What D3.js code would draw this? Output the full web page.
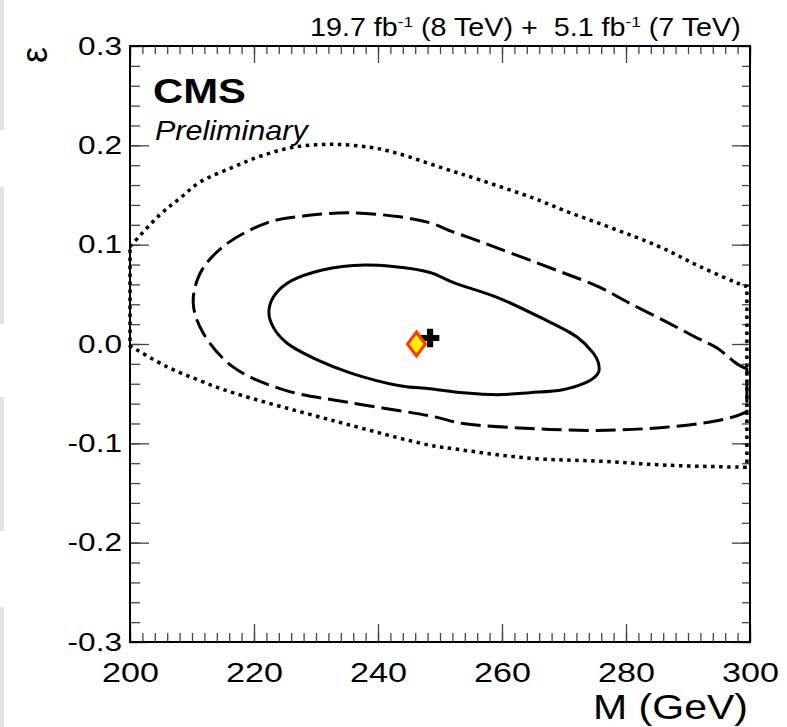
<!DOCTYPE html>
<html>
<head>
<meta charset="utf-8">
<script src="https://cdn.jsdelivr.net/npm/d3@7"></script>
<style>
  body { margin: 0; background: #fff; }
  svg { display: block; font-family: "Liberation Sans", Arial, sans-serif; }
</style>
</head>
<body>
<svg id="chart" width="787" height="727"></svg>
<script>
// axis ticks
const xTicks = [200, 220, 240, 260, 280, 300];
const xTickLabels = ["200", "220", "240", "260", "280", "300"];
const yTicks = [-0.3, -0.2, -0.1, 0, 0.1, 0.2, 0.3];
const yTickLabels = ["-0.3", "-0.2", "-0.1", "0.0", "0.1", "0.2", "0.3"];

// 68% contour (solid), closed, [M, epsilon]
const contour68 = [
  [222.4, 0.032], [223.1, 0.047], [225.3, 0.061], [229.5, 0.072], [236.0, 0.079],
  [242.4, 0.078], [248.4, 0.072], [252.1, 0.062], [259.2, 0.047], [266.1, 0.027],
  [272.1, 0.007], [274.7, -0.009], [275.5, -0.018], [275.6, -0.028], [275.0, -0.033],
  [273.1, -0.040], [269.8, -0.046], [264.5, -0.049], [259.2, -0.051], [253.7, -0.049],
  [248.4, -0.045], [243.5, -0.042], [235.5, -0.029], [230.2, -0.016], [225.3, 0.001],
  [223.1, 0.017]
];

// 95% contour (dashed), open at the M = 300 edge
const contour95 = [
  [299.5, -0.025], [297.9, -0.020], [294.7, -0.004], [291.5, 0.006], [286.6, 0.022],
  [280.6, 0.041], [275.8, 0.057], [268.9, 0.074], [256.5, 0.103], [251.6, 0.114],
  [248.4, 0.122], [243.5, 0.128], [235.5, 0.132], [228.2, 0.129], [222.1, 0.122],
  [215.0, 0.098], [211.3, 0.071], [210.2, 0.041], [211.8, 0.011], [216.6, -0.023],
  [224.7, -0.046], [235.5, -0.059], [248.9, -0.073], [253.7, -0.080], [264.5, -0.085],
  [275.3, -0.087], [286.0, -0.084], [294.0, -0.078], [297.5, -0.073], [299.5, -0.068]
];

// 99% contour (dotted), upper and lower branches, closed along M = 200 and M = 300
const contour99Top = [
  [200.0, 0.098], [204.8, 0.130], [208.1, 0.147], [211.3, 0.163], [216.6, 0.178],
  [221.0, 0.189], [226.3, 0.198], [232.7, 0.201], [238.7, 0.198], [243.1, 0.192],
  [250.5, 0.177], [256.5, 0.165], [265.0, 0.147], [269.8, 0.135], [285.0, 0.099],
  [291.9, 0.078], [298.9, 0.059], [299.5, 0.058]
];
const contour99Bottom = [
  [299.5, -0.124], [298.9, -0.124], [286.6, -0.122], [275.8, -0.118], [264.5, -0.115],
  [251.6, -0.105], [248.4, -0.102], [232.7, -0.077], [216.6, -0.049], [211.3, -0.037],
  [206.0, -0.023], [200.3, -0.003], [200.0, -0.002]
];

const smPoint = [246.2, 0.0];
const bestFit = [248.4, 0.006];

const svg = d3.select("#chart");

// grey tabs at the left border of the screenshot
const greyTabs = [[0, 130], [187, 324], [397, 531], [607, 727]];
svg.selectAll("rect.tab").data(greyTabs).enter().append("rect")
  .attr("class", "tab")
  .attr("x", 0).attr("width", 4)
  .attr("y", d => d[0]).attr("height", d => d[1] - d[0])
  .attr("fill", "#e2e2e2");

const x = d3.scaleLinear().domain([200, 300]).range([130, 750]);
const y = d3.scaleLinear().domain([-0.3, 0.3]).range([642, 46]);

const tickColor = "#444";

function styleAxis(g) {
  g.select(".domain").remove();
  g.selectAll("line").attr("stroke", tickColor).attr("stroke-width", 1.3);
}

// minor ticks
const xMinor = x.ticks(50);
const yMinor = y.ticks(30);

svg.append("g").attr("transform", "translate(0,642)")
  .call(d3.axisBottom(x).tickValues(xMinor).tickSize(-9).tickFormat("")).call(styleAxis);
svg.append("g").attr("transform", "translate(0,46)")
  .call(d3.axisTop(x).tickValues(xMinor).tickSize(-8).tickFormat("")).call(styleAxis);
svg.append("g").attr("transform", "translate(130,0)")
  .call(d3.axisLeft(y).tickValues(yMinor).tickSize(-10).tickFormat("")).call(styleAxis);
svg.append("g").attr("transform", "translate(750,0)")
  .call(d3.axisRight(y).tickValues(yMinor).tickSize(-8).tickFormat("")).call(styleAxis);

// major ticks with labels
const xAxis = svg.append("g").attr("transform", "translate(0,642)")
  .call(d3.axisBottom(x).tickValues(xTicks).tickSize(-18).tickPadding(20)
    .tickFormat((d, i) => xTickLabels[i]))
  .call(styleAxis);
svg.append("g").attr("transform", "translate(0,46)")
  .call(d3.axisTop(x).tickValues(xTicks).tickSize(-17).tickFormat("")).call(styleAxis);
const yAxis = svg.append("g").attr("transform", "translate(130,0)")
  .call(d3.axisLeft(y).tickValues(yTicks).tickSize(-19).tickPadding(8)
    .tickFormat((d, i) => yTickLabels[i]))
  .call(styleAxis);
svg.append("g").attr("transform", "translate(750,0)")
  .call(d3.axisRight(y).tickValues(yTicks).tickSize(-18).tickFormat("")).call(styleAxis);

xAxis.selectAll("text").attr("font-size", 28).attr("fill", "#000")
  .attr("font-family", "Liberation Sans, Arial, sans-serif")
  .attr("transform", "scale(1.22,1)");
yAxis.selectAll("text").attr("font-size", 25.5).attr("fill", "#000")
  .attr("font-family", "Liberation Sans, Arial, sans-serif")
  .attr("transform", "translate(-8,0) scale(1.24,1) translate(8,0)");

// contours
const openLine = d3.line().x(d => x(d[0])).y(d => y(d[1])).curve(d3.curveCatmullRom.alpha(0.5));
const closedLine = d3.line().x(d => x(d[0])).y(d => y(d[1])).curve(d3.curveCatmullRomClosed.alpha(0.5));

svg.append("path")
  .attr("d", openLine(contour99Top) + openLine(contour99Bottom).replace("M", "L") + "Z")
  .attr("fill", "none").attr("stroke", "#000").attr("stroke-width", 3.5)
  .attr("stroke-dasharray", "3.5,4.5");

svg.append("path")
  .attr("d", openLine(contour95) + "Z")
  .attr("fill", "none").attr("stroke", "#000").attr("stroke-width", 3)
  .attr("stroke-dasharray", "20,7");

svg.append("path")
  .attr("d", closedLine(contour68))
  .attr("fill", "none").attr("stroke", "#000").attr("stroke-width", 3);

// best fit cross, then SM diamond on top
svg.append("path")
  .attr("transform", `translate(${x(bestFit[0])},${y(bestFit[1])})`)
  .attr("d", d3.symbol(d3.symbolCross, 190)())
  .attr("fill", "#000");

const dw = 9, dh = 12;
svg.append("path")
  .attr("transform", `translate(${x(smPoint[0])},${y(smPoint[1])})`)
  .attr("d", `M0,${-dh}L${dw},0L0,${dh}L${-dw},0Z`)
  .attr("fill", "#ffee00").attr("stroke", "#ff3a00").attr("stroke-width", 3)
  .attr("stroke-linejoin", "miter");

// frame
svg.append("rect")
  .attr("x", 130).attr("y", 46).attr("width", 620).attr("height", 596)
  .attr("fill", "none").attr("stroke", "#000").attr("stroke-width", 2);

function stretch(sel, w) {
  const bw = sel.node().getBBox().width;
  const x0 = +sel.attr("x");
  sel.attr("transform", `translate(${x0},0) scale(${w / bw},1) translate(${-x0},0)`);
}

// labels
const cms = svg.append("text").attr("x", 153).attr("y", 103)
  .attr("font-size", 36).attr("font-weight", "bold").text("CMS");
stretch(cms, 93);

const prelim = svg.append("text").attr("x", 155).attr("y", 140)
  .attr("font-size", 28).attr("font-style", "italic").text("Preliminary");
stretch(prelim, 155);

const header = svg.append("text").attr("x", 310).attr("y", 36)
  .attr("font-size", 25).style("white-space", "pre");
header.append("tspan").text("19.7 fb");
header.append("tspan").attr("font-size", 15).attr("dy", -9).text("-1");
header.append("tspan").attr("dy", 9).text(" (8 TeV) +  5.1 fb");
header.append("tspan").attr("font-size", 15).attr("dy", -9).text("-1");
header.append("tspan").attr("dy", 9).text(" (7 TeV)");
stretch(header, 431);

const xLabel = svg.append("text").attr("x", 748).attr("y", 719)
  .attr("font-size", 36).attr("text-anchor", "end").text("M (GeV)");
stretch(xLabel, 155);

svg.append("text")
  .attr("transform", "translate(47,47) rotate(-90)")
  .attr("text-anchor", "end").attr("font-size", 36).text("ε");
</script>
</body>
</html>
